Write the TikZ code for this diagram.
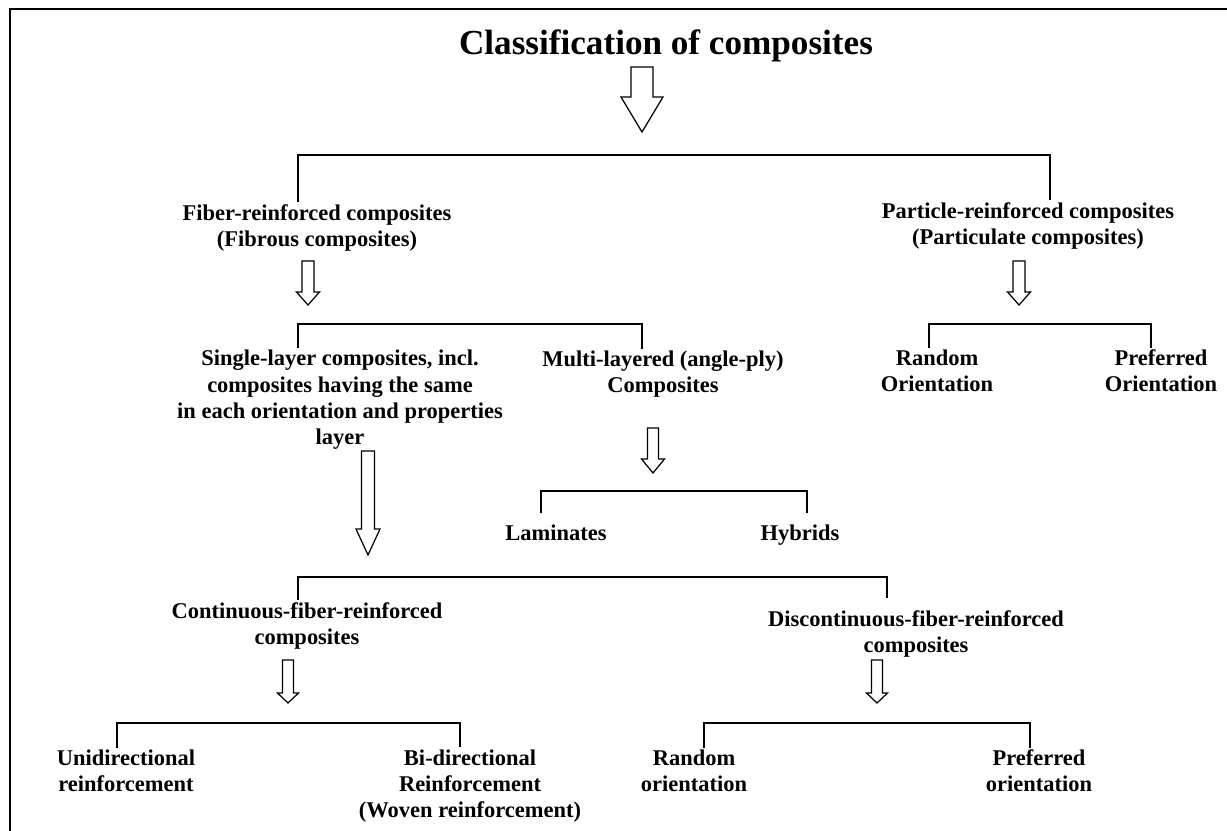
\documentclass[tikz,border=0pt]{standalone}
\usepackage{fontspec}
\setmainfont{Liberation Serif}
\usetikzlibrary{calc}

% hollow block arrow: top, tip, shaft half width, head half width, head length
\newcommand\blockarrow[5]{%
  \draw[hollow] ($(#1)+(-#3,0)$) -- ($(#2)+(-#3,-#5)$) -- ($(#2)+(-#4,-#5)$) -- (#2)
    -- ($(#2)+(#4,-#5)$) -- ($(#2)+(#3,-#5)$) -- ($(#1)+(#3,0)$) -- cycle;}

\begin{document}
\begin{tikzpicture}[x=0.02cm, y=-0.02cm,
    lbl/.style={align=center, inner sep=1pt, font=\bfseries\fontsize{12.8}{15}\selectfont},
    bracket/.style={line width=0.9pt},
    hollow/.style={line width=0.7pt, fill=white, line join=miter}]
  \useasboundingbox (0,0) rectangle (1227,831);
  % Rahmen
  \draw[line width=1.5pt] (1227,9) -- (10,9) -- (10,831);

  % Titel
  \node[inner sep=0pt, font=\bfseries\fontsize{20}{24}\selectfont] (title) at (666,46) {Classification of composites};

  % Ebene 1
  \node[lbl] (fiber) at (317,228) {Fiber-reinforced composites\\(Fibrous composites)};
  \node[lbl] (particle) at (1028,226) {Particle-reinforced composites\\(Particulate composites)};

  % Ebene 2
  \node[lbl] (single) at (340,400) {Single-layer composites, incl.\\composites having the same\\in each  orientation and properties\\layer};
  \node[lbl] (multi) at (663,374) {Multi-layered (angle-ply)\\Composites};
  \node[lbl] (randA) at (937,371) {Random\\Orientation};
  \node[lbl] (prefA) at (1161,371) {Preferred\\Orientation};

  % Ebene 3
  \node[lbl] (lam) at (556,533) {Laminates};
  \node[lbl] (hyb) at (800,535) {Hybrids};
  \node[lbl] (cont) at (307,626) {Continuous-fiber-reinforced\\composites};
  \node[lbl] (disc) at (916,634) {Discontinuous-fiber-reinforced\\composites};

  % Ebene 4
  \node[lbl] (uni) at (126,771) {Unidirectional\\reinforcement};
  \node[lbl] (bi) at (470,786) {Bi-directional\\Reinforcement\\(Woven reinforcement)};
  \node[lbl] (randB) at (694,771) {Random\\orientation};
  \node[lbl] (prefB) at (1039,771) {Preferred\\orientation};

  % Klammern
  \coordinate (bar1a) at (298,155);  \coordinate (bar1b) at (1050,155);
  \coordinate (bar2a) at (298,324);  \coordinate (bar2b) at (642,324);
  \coordinate (bar3a) at (929,324);  \coordinate (bar3b) at (1151,324);
  \coordinate (bar4a) at (541,491);  \coordinate (bar4b) at (807,491);
  \coordinate (bar5a) at (298,577);  \coordinate (bar5b) at (887,577);
  \coordinate (bar6a) at (117,723);  \coordinate (bar6b) at (460,723);
  \coordinate (bar7a) at (704,723);  \coordinate (bar7b) at (1030,723);

  \draw[bracket] (fiber.north -| bar1a) -- (bar1a) -- (bar1b) -- (particle.north -| bar1b);
  \draw[bracket] (single.north -| bar2a) -- (bar2a) -- (bar2b) -- (multi.north -| bar2b);
  \draw[bracket] (randA.north -| bar3a) -- (bar3a) -- (bar3b) -- (prefA.north -| bar3b);
  \draw[bracket] ($(lam.north -| bar4a)+(0,-10)$) -- (bar4a) -- (bar4b) -- ($(hyb.north -| bar4b)+(0,-10)$);
  \draw[bracket] (cont.north -| bar5a) -- (bar5a) -- (bar5b) -- ($(disc.north -| bar5b)+(0,-10)$);
  \draw[bracket] (uni.north -| bar6a) -- (bar6a) -- (bar6b) -- (bi.north -| bar6b);
  \draw[bracket] (randB.north -| bar7a) -- (bar7a) -- (bar7b) -- (prefB.north -| bar7b);

  % Pfeile
  \coordinate (a0s) at (642,67);   \coordinate (a0e) at (642,132);
  \coordinate (a1s) at (308,261);  \coordinate (a1e) at (308,305);
  \coordinate (a2s) at (1019,261); \coordinate (a2e) at (1019,305);
  \coordinate (a3s) at (653,428);  \coordinate (a3e) at (653,473);
  \coordinate (a4s) at (368,451);  \coordinate (a4e) at (368,555);
  \coordinate (a5s) at (288,660);  \coordinate (a5e) at (288,703);
  \coordinate (a6s) at (877,660);  \coordinate (a6e) at (877,703);

  \blockarrow{a0s}{a0e}{11}{21}{35}
  \blockarrow{a1s}{a1e}{6}{11.5}{13}
  \blockarrow{a2s}{a2e}{6}{11.5}{13}
  \blockarrow{a3s}{a3e}{5.5}{11.5}{14}
  \blockarrow{a4s}{a4e}{6.5}{12}{26}
  \blockarrow{a5s}{a5e}{5.5}{10.5}{10}
  \blockarrow{a6s}{a6e}{5.5}{10.5}{10}
\end{tikzpicture}
\end{document}
